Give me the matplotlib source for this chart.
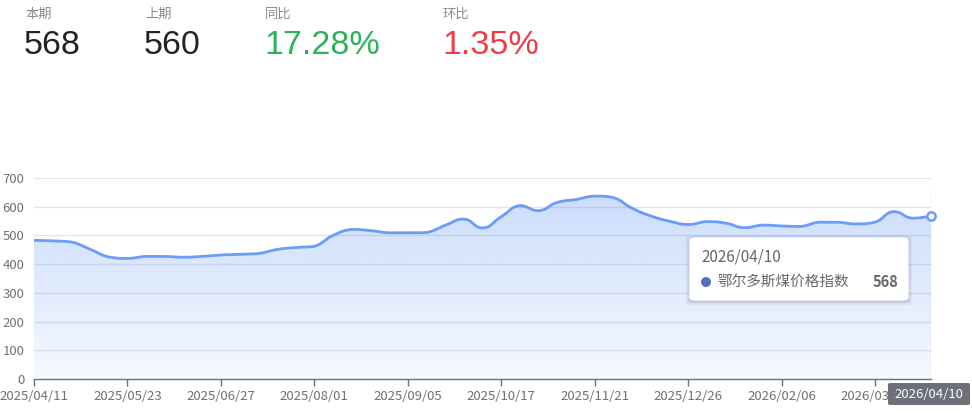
import numpy as np
import matplotlib
matplotlib.use("Agg")
import matplotlib.pyplot as plt
from matplotlib.patches import FancyBboxPatch, Polygon, Ellipse
from matplotlib.colors import LinearSegmentedColormap

plt.rcParams['font.family'] = ['Noto Sans CJK SC', 'DejaVu Sans']

# ---------------- data ----------------
dates = ["2025/04/11", "2025/04/18", "2025/04/25", "2025/05/09", "2025/05/16", "2025/05/23",
         "2025/05/30", "2025/06/06", "2025/06/13", "2025/06/20", "2025/06/27",
         "2025/07/04", "2025/07/11", "2025/07/18", "2025/07/25", "2025/08/01",
         "2025/08/08", "2025/08/15", "2025/08/22", "2025/08/29", "2025/09/05",
         "2025/09/12", "2025/09/19", "2025/09/26", "2025/10/10", "2025/10/17",
         "2025/10/24", "2025/10/31", "2025/11/07", "2025/11/14", "2025/11/21",
         "2025/11/28", "2025/12/05", "2025/12/12", "2025/12/19", "2025/12/26",
         "2026/01/09", "2026/01/16", "2026/01/23", "2026/01/30", "2026/02/06",
         "2026/02/13", "2026/02/27", "2026/03/06", "2026/03/13", "2026/03/20",
         "2026/03/27", "2026/04/03", "2026/04/10"]
values = [483, 481, 477, 452, 425, 420,
          427, 427, 424, 427, 432,
          434, 437, 451, 458, 462,
          500, 521, 517, 509, 509,
          510, 535, 557, 526, 565,
          604, 586, 615, 625, 637,
          632, 595, 568, 550, 538,
          548, 543, 527, 536, 533,
          531, 546, 546, 540, 546,
          583, 560, 568]
series_name = "鄂尔多斯煤价格指数"
yticks = [0, 100, 200, 300, 400, 500, 600, 700]
label_every = 5
header_labels = ["本期", "上期", "同比", "环比"]
header_values = ["568", "560", "17.28%", "1.35%"]

# ---------------- figure ----------------
W, H = 972, 413
fig = plt.figure(figsize=(W / 100, H / 100), dpi=100)
fig.patch.set_facecolor("white")

def fx(x):
    return x / W

def fy(y):
    return 1 - y / H

L, R, T, B = 34, 931, 178, 379
ax = fig.add_axes([fx(L), fy(B), (R - L) / W, (B - T) / H])
ax.set_facecolor("none")
n = len(values)
xs = np.arange(n)
ax.set_xlim(0, n - 1)
ax.set_ylim(0, 700)

for s in ["top", "right", "left"]:
    ax.spines[s].set_visible(False)
ax.spines["bottom"].set_color("#6e7079")
ax.spines["bottom"].set_linewidth(1)

ax.set_yticks(yticks)
ax.set_yticklabels([str(v) for v in yticks])
ax.tick_params(axis="y", length=0, pad=7, labelsize=9.5, labelcolor="#6e7079")
for v in yticks[1:]:
    ax.axhline(v, color="#e0e6f1", lw=1, zorder=0)

tick_idx = list(range(0, n, label_every))
ax.set_xticks(tick_idx)
ax.set_xticklabels([dates[i] for i in tick_idx])
ax.tick_params(axis="x", length=5, width=1, color="#6e7079", pad=3,
               labelsize=9.5, labelcolor="#6e7079")

# ---------------- smooth curve (echarts-like bezier) ----------------
fig.canvas.draw()
pts = ax.transData.transform(np.column_stack([xs, values]))
smooth = 0.5
cps = []
for i in range(n):
    p = pts[i]
    if i == 0 or i == n - 1:
        cps.append((p, p))
        continue
    prev, nxt = pts[i - 1], pts[i + 1]
    v = nxt - prev
    d0 = np.linalg.norm(p - prev)
    d1 = np.linalg.norm(nxt - p)
    r0 = d0 / (d0 + d1)
    r1 = d1 / (d0 + d1)
    cp0 = p - v * smooth * r0
    cp1 = p + v * smooth * r1
    lo0, hi0 = min(p[1], prev[1]), max(p[1], prev[1])
    lo1, hi1 = min(p[1], nxt[1]), max(p[1], nxt[1])
    cp0[1] = np.clip(cp0[1], lo0, hi0)
    cp1[1] = np.clip(cp1[1], lo1, hi1)
    cps.append((cp0, cp1))
t = np.linspace(0, 1, 24)[1:, None]
curve = [pts[0]]
for i in range(n - 1):
    p0 = pts[i]
    c1 = cps[i][1]
    c2 = cps[i + 1][0]
    p3 = pts[i + 1]
    seg = ((1 - t) ** 3) * p0 + 3 * ((1 - t) ** 2) * t * c1 + 3 * (1 - t) * t ** 2 * c2 + t ** 3 * p3
    curve.extend(seg)
curve = np.array(curve)
curve_data = ax.transData.inverted().transform(curve)

# gradient area
top_val = max(values)
cmap = LinearSegmentedColormap.from_list(
    "g", [(84 / 255, 140 / 255, 245 / 255, 0.05), (84 / 255, 140 / 255, 245 / 255, 0.30)])
grad = np.linspace(0, 1, 256).reshape(-1, 1)
im = ax.imshow(grad, cmap=cmap, aspect="auto", origin="lower",
               extent=[0, n - 1, 0, top_val], zorder=1, interpolation="bilinear")
poly_pts = np.vstack([[0, 0], curve_data, [n - 1, 0]])
poly = Polygon(poly_pts, closed=True, facecolor="none", edgecolor="none", transform=ax.transData)
ax.add_patch(poly)
im.set_clip_path(poly)
ax.set_xlim(0, n - 1)
ax.set_ylim(0, 700)

ax.plot(curve_data[:, 0], curve_data[:, 1], color="#6a9cf8", lw=2, zorder=3,
        solid_capstyle="round", solid_joinstyle="round")

# axis pointer
ax.axvline(n - 1, ymin=0, ymax=1, color="#b8bcc6", lw=1, ls=(0, (3, 3)), zorder=2)
ax.plot([n - 1], [values[-1]], marker="o", ms=6, mfc="white", mec="#6a9cf8",
        mew=1.8, zorder=4, clip_on=False)

# axis pointer label
fig.patches.append(FancyBboxPatch((fx(888), fy(405)), fx(970) - fx(888), fy(383) - fy(405),
                                  boxstyle="round,pad=0,rounding_size=0.003",
                                  transform=fig.transFigure, facecolor="#6e7079",
                                  edgecolor="none", zorder=10))
fig.text(fx(929), fy(394), dates[-1], color="white", fontsize=9.5, ha="center", va="center", zorder=11)

# tooltip
for k, a in [(4, 0.04), (2.5, 0.06), (1.2, 0.08)]:
    fig.patches.append(FancyBboxPatch((fx(690 - k), fy(300 + k + 1)), fx(908 + k) - fx(690 - k),
                                      fy(238 - k + 1) - fy(300 + k + 1),
                                      boxstyle="round,pad=0,rounding_size=0.006",
                                      transform=fig.transFigure, facecolor=(0, 0, 0, a),
                                      edgecolor="none", zorder=8))
fig.patches.append(FancyBboxPatch((fx(690), fy(300)), fx(908) - fx(690), fy(238) - fy(300),
                                  boxstyle="round,pad=0,rounding_size=0.006",
                                  transform=fig.transFigure, facecolor="white",
                                  edgecolor="white", zorder=9))
fig.text(fx(701), fy(257), dates[-1], color="#666666", fontsize=11, ha="left", va="center", zorder=12)
fig.patches.append(Ellipse((fx(706), fy(282)), 10 / W, 10 / H, transform=fig.transFigure,
                           facecolor="#5470c6", edgecolor="none", zorder=12))
fig.text(fx(717), fy(282), series_name, color="#666666", fontsize=10.5, ha="left", va="center", zorder=12)
fig.text(fx(898), fy(282), str(values[-1]), color="#666666", fontsize=10.5, fontweight="bold",
         ha="right", va="center", zorder=12)

# header
hx = [25, 145, 265, 443]
hcol = ["#222222", "#222222", "#2bb357", "#f03c46"]
for x, lab, val, c in zip(hx, header_labels, header_values, hcol):
    fig.text(fx(x), fy(14), lab, color="#8a8a8a", fontsize=9.5, ha="left", va="center")
    fig.text(fx(x - 1), fy(46), val, color=c, fontsize=24.5, ha="left", va="center",
             family=["Liberation Sans", "DejaVu Sans"])

fig.savefig("out.png", dpi=100, facecolor="white")
